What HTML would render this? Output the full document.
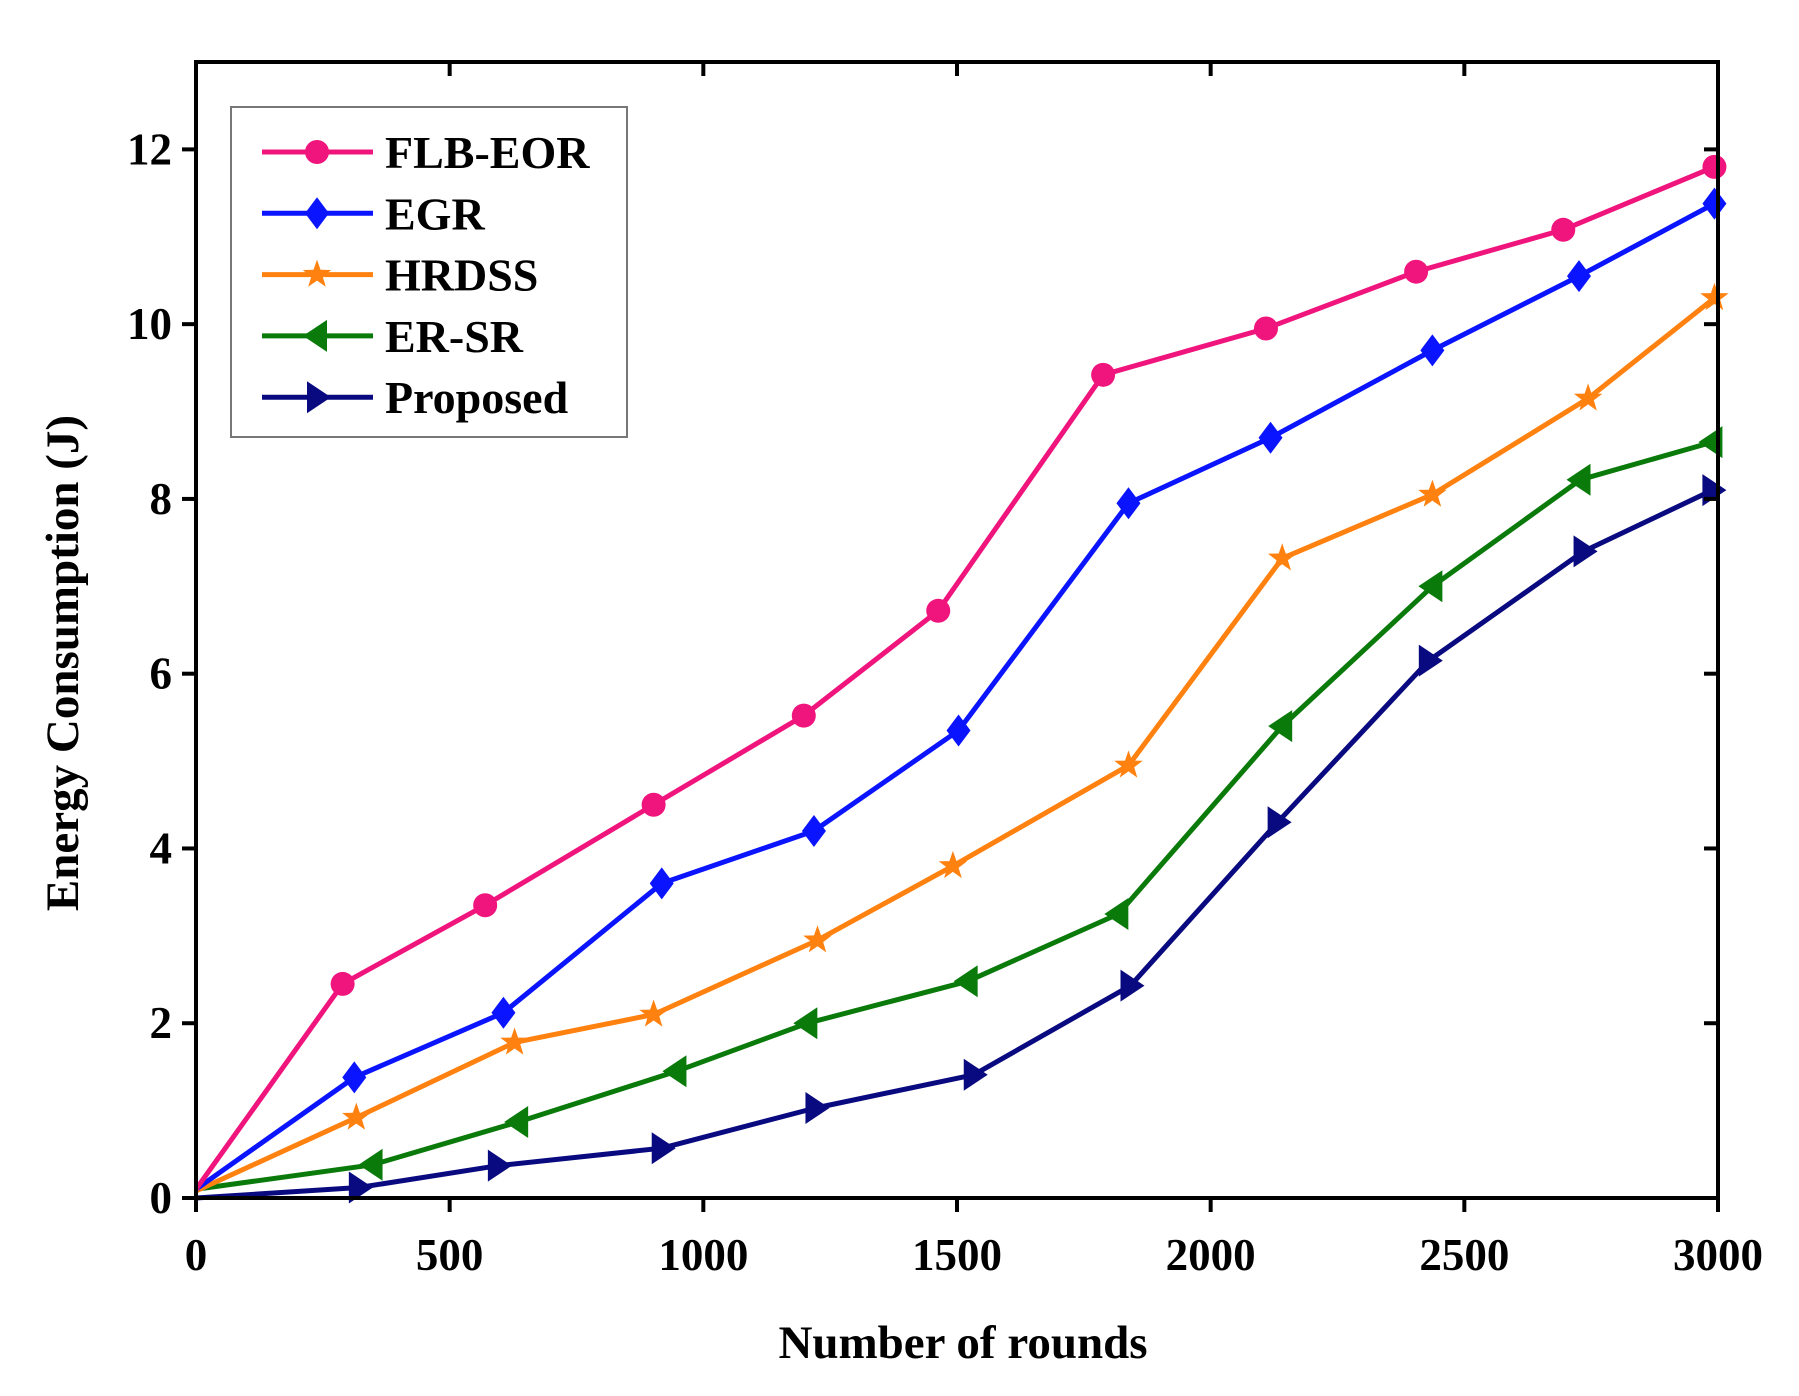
<!DOCTYPE html>
<html><head><meta charset="utf-8"><style>
html,body{margin:0;padding:0;background:#fff;}
svg{display:block;font-family:"Liberation Serif",serif;font-weight:bold;}
</style></head><body>
<svg id="chart" width="1799" height="1396" viewBox="0 0 1799 1396" xmlns="http://www.w3.org/2000/svg">
<text x="963" y="1358" font-size="47" text-anchor="middle">Number of rounds</text>
<text transform="translate(78,663) rotate(-90)" font-size="47" text-anchor="middle">Energy Consumption (J)</text>
<g id="plot"></g>
</svg>
<script>
const xTicks=[0,500,1000,1500,2000,2500,3000];
const yTicks=[0,2,4,6,8,10,12];
const seriesNames=["FLB-EOR","EGR","HRDSS","ER-SR","Proposed"];
const flbX=[0,289,570,902,1198,1463,1788,2109,2405,2695,2993];
const flbY=[0.1,2.45,3.35,4.5,5.52,6.72,9.42,9.95,10.6,11.08,11.8];
const egrX=[0,312,606,918,1218,1503,1838,2118,2437,2726,2993];
const egrY=[0.1,1.38,2.12,3.6,4.2,5.35,7.95,8.7,9.7,10.55,11.38];
const hrdssX=[0,316,628,902,1225,1492,1838,2141,2437,2744,2993];
const hrdssY=[0.08,0.92,1.78,2.1,2.95,3.8,4.95,7.32,8.05,9.15,10.3];
const ersrX=[0,348,635,947,1205,1521,1818,2141,2437,2729,2989];
const ersrY=[0.1,0.38,0.87,1.45,2.0,2.48,3.25,5.4,7.0,8.22,8.65];
const propX=[0,321,595,918,1221,1533,1842,2132,2430,2735,2989];
const propY=[0.0,0.12,0.37,0.57,1.03,1.41,2.43,4.3,6.15,7.4,8.1];

const L=196,R=1718,T=62,B=1198;
const X=v=>L+(v/3000)*(R-L);
const Y=v=>B-(v/13)*(B-T);
const NS="http://www.w3.org/2000/svg";
const g=document.getElementById('plot');
function mk(tag,attrs,parent){const e=document.createElementNS(NS,tag);for(const k in attrs)e.setAttribute(k,attrs[k]);(parent||g).appendChild(e);return e;}

function marker(type,cx,cy,color,parent){
  let e;
  if(type==='circle'){e=mk('circle',{cx:cx,cy:cy,r:12,fill:color},parent);}
  else if(type==='diamond'){e=mk('polygon',{points:`${cx},${cy-16} ${cx+12},${cy} ${cx},${cy+16} ${cx-12},${cy}`,fill:color},parent);}
  else if(type==='star'){let p=[];for(let i=0;i<10;i++){const r=i%2?6:15;const a=-Math.PI/2+i*Math.PI/5;p.push((cx+r*Math.cos(a)).toFixed(1)+','+(cy+r*Math.sin(a)).toFixed(1));}e=mk('polygon',{points:p.join(' '),fill:color},parent);}
  else if(type==='left'){e=mk('polygon',{points:`${cx-14},${cy} ${cx+10},${cy-16} ${cx+10},${cy+16}`,fill:color},parent);}
  else {e=mk('polygon',{points:`${cx+14},${cy} ${cx-10},${cy-16} ${cx-10},${cy+16}`,fill:color},parent);}
  return e;
}

const series=[
 {name:seriesNames[0],xs:flbX,ys:flbY,color:"#f0147d",m:'circle'},
 {name:seriesNames[1],xs:egrX,ys:egrY,color:"#0a14ff",m:'diamond'},
 {name:seriesNames[2],xs:hrdssX,ys:hrdssY,color:"#ff8210",m:'star'},
 {name:seriesNames[3],xs:ersrX,ys:ersrY,color:"#0a7a0a",m:'left'},
 {name:seriesNames[4],xs:propX,ys:propY,color:"#0a0a80",m:'right'}
];

series.slice().reverse().forEach(s=>{
  const sg=mk('g',{});
  
  
  const pl=mk('polyline',{points:s.xs.map((x,i)=>X(x)+','+Y(s.ys[i])).join(' '),fill:'none',stroke:s.color,'stroke-width':5,'stroke-linejoin':'round'},sg);
  
  
  s.xs.forEach((x,i)=>{if(i===0)return;
    const m=marker(s.m,X(x),Y(s.ys[i]),s.color,sg);
    
    
  });
});

const fr=mk('rect',{x:L,y:T,width:R-L,height:B-T,fill:'none',stroke:'#000','stroke-width':4});


xTicks.forEach(v=>{
  const x=X(v);
  mk('line',{x1:x,y1:B,x2:x,y2:B+14,stroke:'#000','stroke-width':4});
  mk('line',{x1:x,y1:T,x2:x,y2:T+14,stroke:'#000','stroke-width':4});
  const t=mk('text',{x:x,y:1270,'font-size':45,'text-anchor':'middle'});
  t.textContent=v;
  
  
});
yTicks.forEach(v=>{
  const y=Y(v);
  mk('line',{x1:L-14,y1:y,x2:L,y2:y,stroke:'#000','stroke-width':4});
  mk('line',{x1:R-14,y1:y,x2:R,y2:y,stroke:'#000','stroke-width':4});
  const t=mk('text',{x:L-24,y:y+15,'font-size':45,'text-anchor':'end'});
  t.textContent=v;
  
  
});

const lg=mk('g',{});


mk('rect',{x:231,y:107,width:396,height:330,fill:'#fff',stroke:'#777','stroke-width':2},lg);
series.forEach((s,i)=>{
  const y=152+i*61.3;
  const e=mk('g',{},lg);
  
  
  mk('line',{x1:262,y1:y,x2:373,y2:y,stroke:s.color,'stroke-width':5},e);
  marker(s.m,317,y,s.color,e);
  const t=mk('text',{x:385,y:y+16,'font-size':46},e);
  t.textContent=s.name;
});
</script>
</body></html>
